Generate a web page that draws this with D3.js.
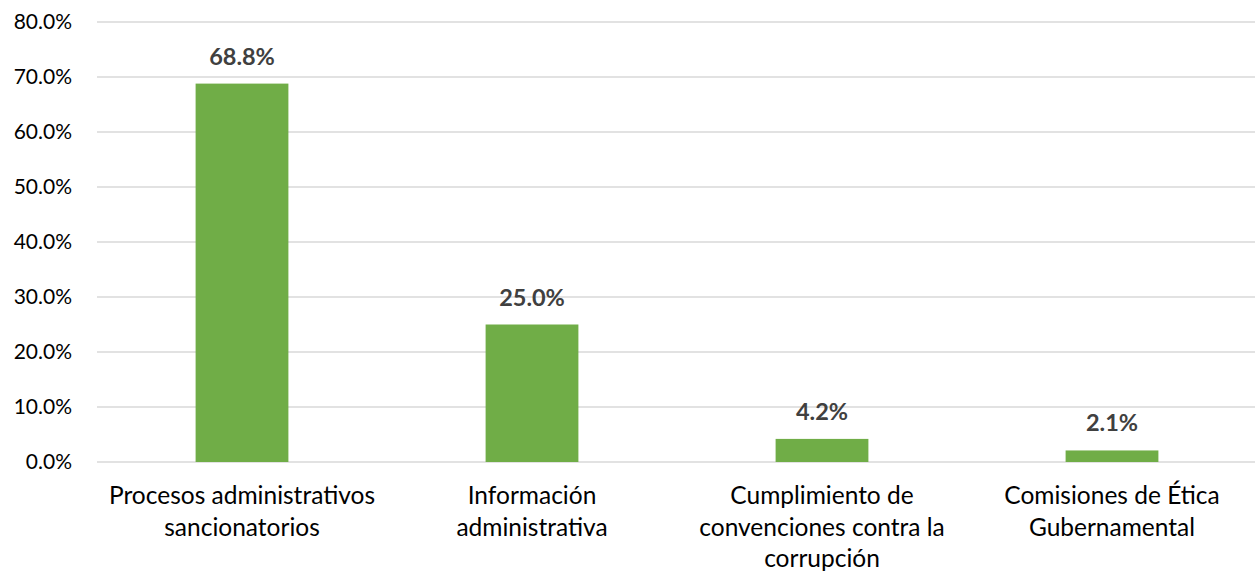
<!DOCTYPE html>
<html>
<head>
<meta charset="utf-8">
<script src="https://cdn.jsdelivr.net/npm/d3@7"></script>
<style>
  body { margin: 0; background: #fff; }
  svg { display: block; font-family: Lato, "Open Sans", sans-serif; }
</style>
</head>
<body>
<div id="chart"></div>
<script>
"use strict";

// categories (line breaks as in the original)
var categories = [
	"Procesos administrativos\nsancionatorios",
	"Información\nadministrativa",
	"Cumplimiento de\nconvenciones contra la\ncorrupción",
	"Comisiones de Ética\nGubernamental"
];
var values = [68.8, 25.0, 4.2, 2.1];
var yTicks = [0, 10, 20, 30, 40, 50, 60, 70, 80];

var width = 1255, height = 573;
var margin = { top: 22, right: -2, bottom: 111, left: 97 };

var svg = d3.select("#chart").append("svg")
	.attr("width", width)
	.attr("height", height);

var x = d3.scaleBand()
	.domain(categories)
	.range([margin.left, width - margin.right])
	.paddingInner(0.68)
	.paddingOuter(0.34);

var y = d3.scaleLinear()
	.domain([0, 80])
	.range([height - margin.bottom, margin.top]);

// gridlines
svg.append("g")
	.selectAll("line")
	.data(yTicks)
	.enter().append("line")
	.attr("x1", margin.left)
	.attr("x2", width)
	.attr("y1", function(d) { return y(d); })
	.attr("y2", function(d) { return y(d); })
	.attr("stroke", "#d9d9d9")
	.attr("stroke-width", 1.5);

// y axis labels
var yAxis = d3.axisLeft(y)
	.tickValues(yTicks)
	.tickSize(0)
	.tickPadding(0)
	.tickFormat(function(d) { return d.toFixed(1) + "%"; });

svg.append("g")
	.attr("transform", "translate(72,0)")
	.call(yAxis)
	.call(function(g) { g.select(".domain").remove(); })
	.selectAll("text")
	.attr("font-family", "Lato, 'Open Sans', sans-serif")
	.attr("font-size", 21)
	.attr("fill", "#000");

// bars
svg.append("g")
	.selectAll("rect")
	.data(values)
	.enter().append("rect")
	.attr("x", function(d, i) { return x(categories[i]); })
	.attr("y", function(d) { return y(d); })
	.attr("width", x.bandwidth())
	.attr("height", function(d) { return y(0) - y(d); })
	.attr("fill", "#70ad47");

// value labels
svg.append("g")
	.selectAll("text")
	.data(values)
	.enter().append("text")
	.attr("x", function(d, i) { return x(categories[i]) + x.bandwidth() / 2; })
	.attr("y", function(d) { return y(d) - 19; })
	.attr("text-anchor", "middle")
	.attr("font-size", 23.5)
	.attr("font-weight", "bold")
	.attr("fill", "#404040")
	.text(function(d) { return d.toFixed(1) + "%"; });

// category labels
var cat = svg.append("g")
	.selectAll("text")
	.data(categories)
	.enter().append("text")
	.attr("text-anchor", "middle")
	.attr("font-size", 24.5)
	.attr("fill", "#000")
	.attr("transform", function(d) {
		return "translate(" + (x(d) + x.bandwidth() / 2) + "," + (y(0) + 42) + ")";
	});

cat.selectAll("tspan")
	.data(function(d) { return d.split("\n"); })
	.enter().append("tspan")
	.attr("x", 0)
	.attr("y", function(d, i) { return i * 31.5; })
	.text(function(d) { return d; });
</script>
</body>
</html>
